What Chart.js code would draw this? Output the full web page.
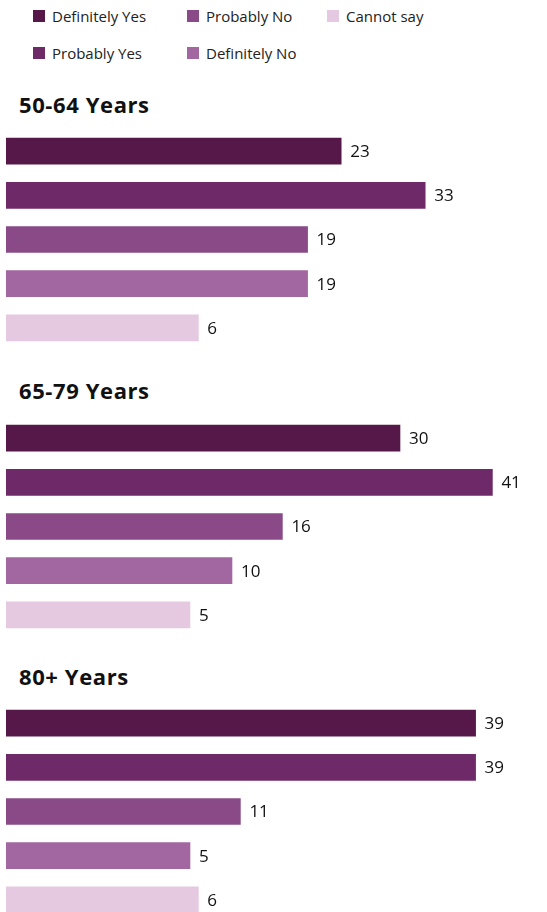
<!DOCTYPE html>
<html>
<head>
<meta charset="utf-8">
<script src="https://cdn.jsdelivr.net/npm/chart.js@4/dist/chart.umd.min.js"></script>
<style>
  body { margin: 0; width: 547px; height: 912px; overflow: hidden; background: #fff; font-family: "Open Sans", sans-serif; position: relative; }
  #legend { position: absolute; left: 33px; top: 6px; display: grid; grid-template-rows: 20px 20px; row-gap: 17px; grid-auto-flow: column; grid-template-columns: 154px 140px auto; }
  .item { display: flex; align-items: center; font-size: 15px; color: #222; }
  .box { width: 12px; height: 12px; margin-right: 7px; }
  .title { position: absolute; left: 19px; font-weight: bold; font-size: 22px; letter-spacing: 0.6px; color: #111; margin: 0; line-height: 1; }
  .wrap { position: absolute; left: 0; width: 547px; height: 221px; }
</style>
</head>
<body>
<div id="legend"></div>
<div id="groups"></div>
<script>
const answers = ["Definitely Yes", "Probably Yes", "Probably No", "Definitely No", "Cannot say"];
const colors = ["#561848", "#6e2a68", "#8a4a88", "#a266a1", "#e4c9e1"];
const ageGroups = ["50-64 Years", "65-79 Years", "80+ Years"];
const values5064 = [23, 33, 19, 19, 6];
const values6579 = [30, 41, 16, 10, 5];
const values80 = [39, 39, 11, 5, 6];
const allValues = [values5064, values6579, values80];

// axis range so the bars start at the left edge
const axisMin = -16.9;
const axisMax = 47.5;

// legend
const legend = document.getElementById('legend');
answers.forEach((a, i) => {
  const d = document.createElement('div');
  d.className = 'item';
  d.innerHTML = '<span class="box" style="background:' + colors[i] + '"></span>' + a;
  legend.appendChild(d);
});

// value labels next to the bars
const valueLabels = {
  id: 'valueLabels',
  afterDatasetsDraw(chart) {
    const ctx = chart.ctx;
    ctx.save();
    ctx.font = '17px "Open Sans"';
    ctx.fillStyle = '#111';
    ctx.textBaseline = 'middle';
    chart.getDatasetMeta(0).data.forEach((bar, i) => {
      ctx.fillText(chart.data.datasets[0].data[i], bar.x + 9, bar.y + 1);
    });
    ctx.restore();
  }
};

const titleTops = [93, 379, 665];
const chartTops = [129, 416, 701];

const groups = document.getElementById('groups');
ageGroups.forEach((g, k) => {
  const h = document.createElement('h2');
  h.className = 'title';
  h.style.top = titleTops[k] + 'px';
  h.textContent = g;
  groups.appendChild(h);

  const w = document.createElement('div');
  w.className = 'wrap';
  w.style.top = chartTops[k] + 'px';
  const c = document.createElement('canvas');
  w.appendChild(c);
  groups.appendChild(w);

  new Chart(c, {
    type: 'bar',
    data: {
      labels: answers,
      datasets: [{
        data: allValues[k],
        backgroundColor: colors,
        base: axisMin,
        barThickness: 26
      }]
    },
    options: {
      indexAxis: 'y',
      responsive: true,
      maintainAspectRatio: false,
      animation: false,
      layout: { padding: { left: 6, right: 0, top: 0, bottom: 0 } },
      scales: {
        x: { display: false, min: axisMin, max: axisMax },
        y: { display: false }
      },
      plugins: {
        legend: { display: false },
        tooltip: { enabled: false }
      }
    },
    plugins: [valueLabels]
  });
});
</script>
</body>
</html>
